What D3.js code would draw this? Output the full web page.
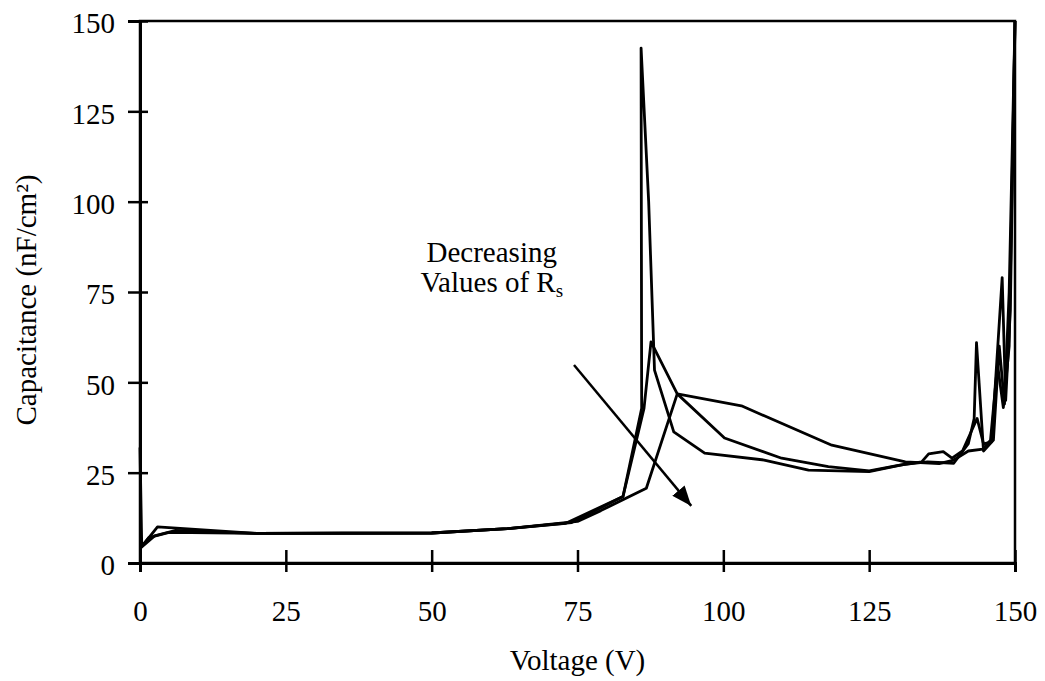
<!DOCTYPE html>
<html>
<head>
<meta charset="utf-8">
<script src="https://cdn.jsdelivr.net/npm/d3@7"></script>
<style>
  body { margin: 0; background: #fff; }
  svg text { font-family: "Liberation Serif", "Times New Roman", serif; fill: #000; }
</style>
</head>
<body>
<svg id="chart" width="1045" height="681"></svg>
<script>
// axis ticks
var xTicks = [0, 25, 50, 75, 100, 125, 150];
var yTicks = [0, 25, 50, 75, 100, 125, 150];

// three C-V curves, [voltage, capacitance]
var curveA = [[0,32],[0.3,4.5],[3,10],[20,8.2],[50,8.3],[63,9.5],[73,11],[82.8,18.4],[86,42.8],
  [85.9,142.5],[87.2,100],[88.2,53.4],[91.5,36.3],[96.8,30.4],[107,28.5],[114.6,25.7],[125,25.3],
  [131,27.3],[135,28],[139.5,27.6],[142,33],[143,40],[143.4,61],[144.6,31],[146.3,34],[147.3,60],
  [148.2,44],[149,75],[150,150]];
var curveB = [[0,4],[1.5,7],[5,8.5],[20,8.2],[50,8.3],[63,9.5],[74,11.2],[82.8,18.4],[86.4,42.8],
  [87.6,61.2],[92.1,46.8],[100.2,34.6],[110,29],[118,26.7],[125,25.5],[130,27],[134,28],[135.2,30.2],
  [137.7,30.8],[139.2,29],[141,31],[143.5,40],[144.6,33],[146,33.5],[147.8,79],[148.4,45],[149.2,70],
  [150,150]];
var curveC = [[0,4],[2.5,7.5],[6,9],[20,8.2],[50,8.3],[63,9.5],[75,11.5],[79,14.5],[86.8,20.7],
  [92.1,46.8],[103.1,43.5],[118.6,32.6],[131.2,28],[137,27.5],[139.5,28.5],[142,31],[144.5,31.5],
  [145.8,34],[147,55],[148,43],[149,60],[150,150]];
var curves = [curveA, curveB, curveC];

// annotation text and arrow, in data units
var noteLines = ["Decreasing", "Values of R"];
var noteAt = [60.3, 83.3];
var arrowFrom = [74.4, 54.8];
var arrowTo = [94.5, 15.8];

var svg = d3.select("#chart");
var padLeft = 140, padRight = 1015, padTop = 21, padBottom = 563;

var x = d3.scaleLinear().domain([0, 150]).range([padLeft, padRight]);
var y = d3.scaleLinear().domain([0, 150]).range([padBottom, padTop]);

// plot frame
svg.append("rect")
    .attr("x", padLeft).attr("y", padTop)
    .attr("width", padRight - padLeft).attr("height", padBottom - padTop)
    .attr("fill", "none").attr("stroke", "#000").attr("stroke-width", 2.5);

// x axis, cross ticks
var gx = svg.append("g")
    .attr("transform", "translate(0," + padBottom + ")")
    .call(d3.axisBottom(x).tickValues(xTicks).tickSizeOuter(0).tickSize(9));
gx.select(".domain").attr("stroke-width", 3);
gx.selectAll(".tick line").attr("y1", -13).attr("y2", 9).attr("stroke-width", 2.5);
gx.selectAll(".tick text")
    .attr("y", 58).attr("dy", 0)
    .style("font-size", "29px");

// y axis, cross ticks
var gy = svg.append("g")
    .attr("transform", "translate(" + padLeft + ",0)")
    .call(d3.axisLeft(y).tickValues(yTicks).tickSizeOuter(0).tickSize(12));
gy.select(".domain").attr("stroke-width", 3);
gy.selectAll(".tick line").attr("x1", -12).attr("x2", 8).attr("stroke-width", 2.5);
gy.selectAll(".tick text")
    .attr("x", -25).attr("dy", "0.41em")
    .style("font-size", "29px");
svg.selectAll(".domain, .tick line").attr("stroke", "#000");

// curves
var line = d3.line()
    .x(function(d) { return x(d[0]); })
    .y(function(d) { return y(d[1]); });

svg.append("g").selectAll("path")
    .data(curves)
    .enter().append("path")
    .attr("d", line)
    .attr("fill", "none")
    .attr("stroke", "#000")
    .attr("stroke-width", 2.8)
    .attr("stroke-linejoin", "round");

// axis titles
svg.append("text")
    .attr("x", (padLeft + padRight) / 2).attr("y", 670)
    .attr("text-anchor", "middle")
    .style("font-size", "29px")
    .text("Voltage (V)");

svg.append("text")
    .attr("transform", "translate(36," + ((padTop + padBottom) / 2 + 8) + ") rotate(-90)")
    .attr("text-anchor", "middle")
    .style("font-size", "29px")
    .text("Capacitance (nF/cm\u00b2)");

// annotation
var note = svg.append("text")
    .attr("x", x(noteAt[0])).attr("y", y(noteAt[1]))
    .attr("text-anchor", "middle")
    .style("font-size", "29px");
note.append("tspan").attr("x", x(noteAt[0])).text(noteLines[0]);
note.append("tspan").attr("x", x(noteAt[0])).attr("dy", 30).text(noteLines[1]);
note.append("tspan").attr("dy", 5).style("font-size", "19px").text("s");

svg.append("defs").append("marker")
    .attr("id", "head")
    .attr("markerUnits", "userSpaceOnUse")
    .attr("markerWidth", 22).attr("markerHeight", 16)
    .attr("refX", 20).attr("refY", 8)
    .attr("orient", "auto")
    .append("path")
    .attr("d", "M0,0 L20,8 L0,16 Z")
    .attr("fill", "#000");

svg.append("line")
    .attr("x1", x(arrowFrom[0])).attr("y1", y(arrowFrom[1]))
    .attr("x2", x(arrowTo[0])).attr("y2", y(arrowTo[1]))
    .attr("stroke", "#000").attr("stroke-width", 2.5)
    .attr("marker-end", "url(#head)");
</script>
</body>
</html>
